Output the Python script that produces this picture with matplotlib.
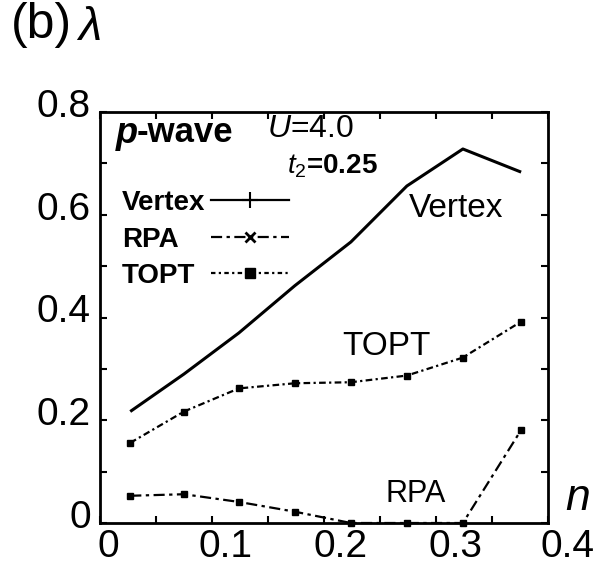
import matplotlib
matplotlib.use("Agg")
import matplotlib.pyplot as plt
from matplotlib.lines import Line2D
from matplotlib.transforms import ScaledTranslation
from matplotlib.ticker import MultipleLocator

plt.rcParams['font.family'] = ['Liberation Sans', 'DejaVu Sans']
plt.rcParams['mathtext.fontset'] = 'custom'
plt.rcParams['mathtext.it'] = 'Liberation Sans:italic'
plt.rcParams['mathtext.rm'] = 'Liberation Sans'
plt.rcParams['mathtext.bf'] = 'Liberation Sans:bold'

# ---- data ----
n = [0.027, 0.075, 0.124, 0.174, 0.224, 0.274, 0.324, 0.376]
vertex = [0.217, 0.290, 0.370, 0.462, 0.547, 0.656, 0.728, 0.683]
topt = [0.156, 0.217, 0.262, 0.272, 0.274, 0.287, 0.322, 0.392]
rpa = [0.053, 0.056, 0.041, 0.022, 0.0, 0.0, 0.0, 0.181]

xticks = [0, 0.1, 0.2, 0.3, 0.4]
xticklabels = ["0", "0.1", "0.2", "0.3", "0.4"]
yticks = [0, 0.2, 0.4, 0.6, 0.8]
yticklabels = ["0", "0.2", "0.4", "0.6", "0.8"]

W, H = 599, 571
fig = plt.figure(figsize=(W/100, H/100), dpi=100)
ax = fig.add_axes([100/W, 1-523/H, 448/W, 411/H])

def ptext(x, y, s, **kw):
    """place text by figure pixel position (top-left)"""
    return fig.text(x/W, 1-y/H, s, va='top', ha='left', **kw)

ax.plot(n, vertex, color='black', lw=2.2, solid_capstyle='butt', clip_on=False)
ax.plot(n, rpa, color='black', lw=1.6, linestyle=(0, (5, 2, 1.5, 2)),
        marker='s', ms=4.5, clip_on=False)
ax.plot(n, topt, color='black', lw=1.6, linestyle=(0, (3, 1.5, 1, 1.5)),
        marker='s', ms=5, clip_on=False)

ax.set_xlim(0, 0.4)
ax.set_ylim(0, 0.8)
ax.set_xticks(xticks)
ax.set_xticklabels(xticklabels)
ax.set_yticks(yticks)
ax.set_yticklabels(yticklabels)
ax.xaxis.set_minor_locator(MultipleLocator(0.05))
ax.yaxis.set_minor_locator(MultipleLocator(0.1))
ax.tick_params(which='both', direction='in', top=True, right=True,
               length=5, width=1.5, labelsize=28)
ax.tick_params(axis='x', pad=4)
ax.tick_params(axis='y', pad=6.5)
for s in ax.spines.values():
    s.set_linewidth(2)

for lab in ax.get_yticklabels():
    lab.set_transform(lab.get_transform() + ScaledTranslation(0, 9/100, fig.dpi_scale_trans))
for lab, sh in zip(ax.get_xticklabels(), [8, 14, 17, 19, 19]):
    lab.set_transform(lab.get_transform() + ScaledTranslation(sh/100, 0, fig.dpi_scale_trans))

# legend
handles = [
    Line2D([], [], color='black', lw=1.6, marker='+', ms=12, mew=1.5),
    Line2D([], [], color='black', lw=1.6, linestyle=(0, (5, 2, 1.5, 2)), marker='x', ms=7, mew=2),
    Line2D([], [], color='black', lw=1.6, linestyle=(0, (2, 1.5, 1, 1.5)), marker='s', ms=7),
]
labels = ["Vertex", "RPA", "TOPT"]
leg = ax.legend(handles, labels, loc='upper left', bbox_to_anchor=((122-100)/448, (523-190)/411),
                frameon=False, markerfirst=False, borderpad=0, borderaxespad=0,
                handlelength=2.8, handletextpad=0.22, labelspacing=0.38,
                prop={'weight': 'bold', 'size': 20})

fig.canvas.draw()
r = fig.canvas.get_renderer()
widths = [t.get_window_extent(r).width for t in leg.get_texts()]
mx = max(widths)
col = leg._legend_handle_box.get_children()[0]
for item, w in zip(col.get_children(), widths):
    item.sep = item.sep + (mx - w) * 72 / fig.dpi

# annotations
ptext(116, 116, "p", fontsize=26, fontweight='bold', style='italic')
ptext(137, 116, "-wave", fontsize=25, fontweight='bold')
ptext(267, 114, "$U$=4.0", fontsize=23)
ptext(287, 153, "$t_2$=0.25", fontsize=20, fontweight='bold')
ptext(409, 193, "Vertex", fontsize=24)
ptext(342, 331, "TOPT", fontsize=24)
ptext(386, 479, "RPA", fontsize=22)
ptext(565, 478, "n", fontsize=32, style='italic')
ptext(11, 2, "(b)", fontsize=36)
ptext(78, 6, "λ", fontsize=34, style='italic')

fig.savefig("out.png", dpi=100)
